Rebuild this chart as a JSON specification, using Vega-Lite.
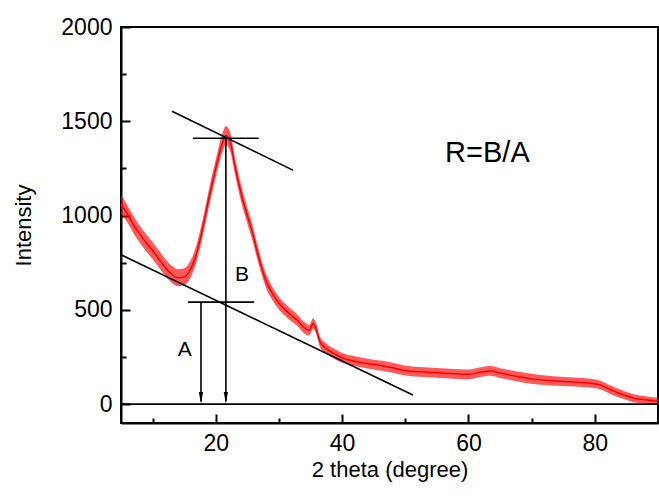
{
  "$schema": "https://vega.github.io/schema/vega-lite/v6.json",
  "width": 537,
  "height": 396,
  "autosize": {"type": "none"},
  "padding": {"left": 121, "top": 27, "right": 1, "bottom": 76},
  "background": "white",
  "config": {
    "view": {"stroke": "black", "strokeWidth": 2},
    "font": "Liberation Sans",
    "axis": {"labelFont": "Liberation Sans", "titleFont": "Liberation Sans", "labelColor": "black", "titleColor": "black", "domainColor": "black", "tickColor": "black", "domainWidth": 2, "tickWidth": 2, "grid": false, "labelFontSize": 23, "titleFontSize": 22, "titleFontWeight": "normal"}
  },
  "datasets": {
    "xrd": [
      {"x": 5, "y": 1060, "lo": 1010, "hi": 1110},
      {"x": 6, "y": 1010, "lo": 965, "hi": 1055},
      {"x": 7, "y": 950, "lo": 905, "hi": 995},
      {"x": 8, "y": 900, "lo": 855, "hi": 945},
      {"x": 9, "y": 855, "lo": 810, "hi": 900},
      {"x": 10, "y": 815, "lo": 770, "hi": 860},
      {"x": 11, "y": 770, "lo": 725, "hi": 815},
      {"x": 12, "y": 725, "lo": 680, "hi": 770},
      {"x": 13, "y": 690, "lo": 645, "hi": 735},
      {"x": 14, "y": 670, "lo": 625, "hi": 715},
      {"x": 15, "y": 675, "lo": 630, "hi": 720},
      {"x": 16, "y": 715, "lo": 670, "hi": 760},
      {"x": 17, "y": 805, "lo": 760, "hi": 850},
      {"x": 18, "y": 945, "lo": 900, "hi": 990},
      {"x": 19, "y": 1105, "lo": 1058, "hi": 1152},
      {"x": 20, "y": 1250, "lo": 1203, "hi": 1297},
      {"x": 21, "y": 1380, "lo": 1330, "hi": 1430},
      {"x": 21.6, "y": 1425, "lo": 1375, "hi": 1475},
      {"x": 22.3, "y": 1390, "lo": 1340, "hi": 1440},
      {"x": 23, "y": 1270, "lo": 1225, "hi": 1315},
      {"x": 24, "y": 1120, "lo": 1075, "hi": 1165},
      {"x": 25, "y": 1000, "lo": 958, "hi": 1042},
      {"x": 25.7, "y": 923, "lo": 881, "hi": 965},
      {"x": 26.5, "y": 817, "lo": 777, "hi": 857},
      {"x": 27.3, "y": 720, "lo": 683, "hi": 757},
      {"x": 28.1, "y": 642, "lo": 605, "hi": 679},
      {"x": 29, "y": 585, "lo": 550, "hi": 620},
      {"x": 30, "y": 535, "lo": 502, "hi": 568},
      {"x": 31, "y": 500, "lo": 468, "hi": 532},
      {"x": 32, "y": 470, "lo": 438, "hi": 502},
      {"x": 33, "y": 442, "lo": 412, "hi": 472},
      {"x": 34, "y": 405, "lo": 375, "hi": 435},
      {"x": 34.8, "y": 392, "lo": 364, "hi": 420},
      {"x": 35.4, "y": 428, "lo": 400, "hi": 456},
      {"x": 35.9, "y": 400, "lo": 372, "hi": 428},
      {"x": 36.5, "y": 330, "lo": 303, "hi": 357},
      {"x": 37.5, "y": 295, "lo": 268, "hi": 322},
      {"x": 38.6, "y": 270, "lo": 244, "hi": 296},
      {"x": 40, "y": 245, "lo": 219, "hi": 271},
      {"x": 42, "y": 228, "lo": 202, "hi": 254},
      {"x": 44, "y": 215, "lo": 189, "hi": 241},
      {"x": 46, "y": 205, "lo": 179, "hi": 231},
      {"x": 48, "y": 193, "lo": 167, "hi": 219},
      {"x": 50, "y": 178, "lo": 152, "hi": 204},
      {"x": 53, "y": 170, "lo": 144, "hi": 196},
      {"x": 57, "y": 162, "lo": 136, "hi": 188},
      {"x": 60, "y": 158, "lo": 132, "hi": 184},
      {"x": 62, "y": 170, "lo": 144, "hi": 196},
      {"x": 63.5, "y": 176, "lo": 150, "hi": 202},
      {"x": 65, "y": 165, "lo": 139, "hi": 191},
      {"x": 67.5, "y": 148, "lo": 122, "hi": 174},
      {"x": 71, "y": 130, "lo": 104, "hi": 156},
      {"x": 75, "y": 120, "lo": 96, "hi": 144},
      {"x": 79, "y": 112, "lo": 88, "hi": 136},
      {"x": 81, "y": 100, "lo": 77, "hi": 123},
      {"x": 82.5, "y": 76, "lo": 53, "hi": 99},
      {"x": 84.5, "y": 50, "lo": 29, "hi": 71},
      {"x": 86, "y": 33, "lo": 12, "hi": 54},
      {"x": 88.3, "y": 22, "lo": 3, "hi": 41},
      {"x": 90, "y": 15, "lo": -4, "hi": 34}
    ],
    "segs": [
      {"x": 5, "y": 0, "x2": 90, "y2": 0},
      {"x": 13.07, "y": 1553, "x2": 32.2, "y2": 1241},
      {"x": 16.4, "y": 1410, "x2": 26.8, "y2": 1410},
      {"x": 21.6, "y": 1410, "x2": 21.6, "y2": 15},
      {"x": 5.16, "y": 790, "x2": 51.2, "y2": 48},
      {"x": 15.6, "y": 541, "x2": 26.05, "y2": 541},
      {"x": 17.66, "y": 541, "x2": 17.66, "y2": 15}
    ],
    "arrows": [
      {"x": 21.6, "y": 32},
      {"x": 17.66, "y": 32}
    ],
    "labels": [
      {"x": 15.1, "y": 289, "text": "A", "size": 21},
      {"x": 24.15, "y": 687, "text": "B", "size": 21},
      {"x": 63.0, "y": 1331, "text": "R=B/A", "size": 29}
    ]
  },
  "layer": [
    {
      "data": {"name": "xrd"},
      "mark": {"type": "area", "color": "#ff0000", "opacity": 0.65, "interpolate": "monotone"},
      "encoding": {
        "x": {"field": "x", "type": "quantitative", "scale": {"domain": [5, 90], "nice": false, "zero": false},
          "axis": {"title": "2 theta (degree)", "values": [10, 20, 30, 40, 50, 60, 70, 80], "labelExpr": "datum.value % 20 === 0 ? datum.label : ''",
            "tickSize": {"condition": {"test": "datum.value % 20 === 0", "value": -9}, "value": -5},
            "labelPadding": 18, "titlePadding": 4}},
        "y": {"field": "lo", "type": "quantitative", "scale": {"domain": [-100, 2000], "nice": false, "zero": false},
          "axis": {"title": "Intensity", "values": [0, 250, 500, 750, 1000, 1250, 1500, 1750, 2000], "labelExpr": "datum.value % 500 === 0 ? format(datum.value, 'd') : ''",
            "tickSize": {"condition": {"test": "datum.value % 500 === 0", "value": -9}, "value": -5},
            "labelPadding": 18, "titlePadding": 25}},
        "y2": {"field": "hi"}
      }
    },
    {
      "data": {"name": "xrd"},
      "mark": {"type": "line", "color": "#ff0000", "strokeWidth": 1.5, "interpolate": "monotone"},
      "encoding": {
        "x": {"field": "x", "type": "quantitative", "scale": {"domain": [5, 90], "nice": false, "zero": false}},
        "y": {"field": "y", "type": "quantitative", "scale": {"domain": [-100, 2000], "nice": false, "zero": false}}
      }
    },
    {
      "data": {"name": "segs"},
      "mark": {"type": "rule", "color": "black", "strokeWidth": 1.6},
      "encoding": {
        "x": {"field": "x", "type": "quantitative", "scale": {"domain": [5, 90], "nice": false, "zero": false}},
        "y": {"field": "y", "type": "quantitative", "scale": {"domain": [-100, 2000], "nice": false, "zero": false}},
        "x2": {"field": "x2"},
        "y2": {"field": "y2"}
      }
    },
    {
      "data": {"name": "arrows"},
      "mark": {"type": "point", "shape": "M-0.35,-1L0.35,-1L0,1Z", "filled": true, "color": "black", "opacity": 1, "size": 144},
      "encoding": {
        "x": {"field": "x", "type": "quantitative", "scale": {"domain": [5, 90], "nice": false, "zero": false}},
        "y": {"field": "y", "type": "quantitative", "scale": {"domain": [-100, 2000], "nice": false, "zero": false}}
      }
    },
    {
      "data": {"name": "labels"},
      "mark": {"type": "text", "color": "black", "font": "Liberation Sans", "align": "center", "baseline": "middle"},
      "encoding": {
        "x": {"field": "x", "type": "quantitative", "scale": {"domain": [5, 90], "nice": false, "zero": false}},
        "y": {"field": "y", "type": "quantitative", "scale": {"domain": [-100, 2000], "nice": false, "zero": false}},
        "text": {"field": "text"},
        "size": {"field": "size", "type": "quantitative", "scale": null}
      }
    }
  ]
}
